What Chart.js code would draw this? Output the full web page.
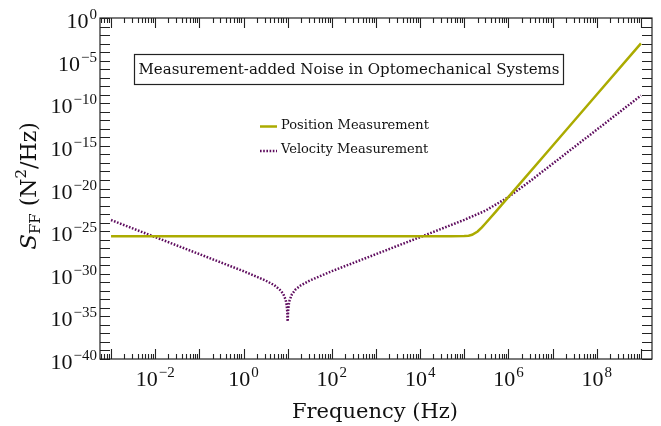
<!DOCTYPE html>
<html>
<head>
<meta charset="utf-8">
<script src="https://cdn.jsdelivr.net/npm/chart.js@4.4.1/dist/chart.umd.min.js"></script>
<style>
  body { margin: 0; background: #fff; }
</style>
</head>
<body>
<canvas id="myChart" width="661" height="426"></canvas>
<script>
// values (Hz, N^2/Hz)
const posFreq = [1e-3, 1e-2, 1e-1, 1, 10, 100, 1e3, 1e4, 5e4, 1e5, 1.25e5, 1.5e5, 2e5, 2.5e5, 3e5, 5e5, 7e5, 1e6, 1e7, 1e8, 1e9];
const posNoise = [2.5e-26, 2.5e-26, 2.5e-26, 2.5e-26, 2.5e-26, 2.5e-26, 2.5e-26, 2.5e-26, 2.5e-26, 2.6e-26, 2.9e-26, 3.7e-26, 9.1e-26, 2.8e-25, 7.9e-25, 1.6e-23, 1.2e-22, 1.05e-21, 1.05e-15, 1.05e-9, 1.05e-3];

const velFreq = [1e-3, 1e-2, 1e-1, 1, 3.16, 5, 7, 8, 9, 9.5, 9.8, 10, 10.2, 10.5, 11, 12.5, 15, 20, 31.6, 100, 1e3, 1e4, 1e5, 3e5, 1e6, 3e6, 1e7, 1e8, 1e9];
const velNoise = [2e-24, 2e-26, 2e-28, 2e-30, 1.6e-31, 4.5e-32, 1.05e-32, 4e-33, 8.9e-34, 2.1e-34, 3.2e-35, 2.5e-36, 3.2e-35, 1.9e-34, 7.2e-34, 4e-33, 1.4e-32, 4.5e-32, 1.6e-31, 2e-30, 2e-28, 2e-26, 2.1e-24, 2.5e-23, 1e-21, 6.6e-20, 8e-18, 8e-14, 8e-10];

const xLabelExp = [-2, 0, 2, 4, 6, 8];
const yLabelExp = [0, -5, -10, -15, -20, -25, -30, -35, -40];

const posColor = '#abab00';
const velColor = '#5e0c5e';
const serif = '"DejaVu Serif"';
const numFont = '"Liberation Serif"';

function drawPow(ctx, exp, x, y, align) {
    const base = '10';
    const sup = exp < 0 ? '\u2212' + Math.abs(exp) : String(exp);
    ctx.font = '22px ' + numFont;
    const wb = ctx.measureText(base).width;
    ctx.font = '15px ' + numFont;
    const ws = ctx.measureText(sup).width;
    const total = wb + ws + 1;
    const x0 = align === 'right' ? x - total : x - total / 2;
    ctx.textAlign = 'left';
    ctx.textBaseline = 'alphabetic';
    ctx.font = '22px ' + numFont;
    ctx.fillText(base, x0, y);
    ctx.font = '15px ' + numFont;
    ctx.fillText(sup, x0 + wb + 1, y - 9);
}

function drawPieces(ctx, pieces) {
    let total = 0;
    pieces.forEach(p => { ctx.font = p.font; p.w = ctx.measureText(p.t).width; total += p.w; });
    let x = -total / 2;
    ctx.textAlign = 'left';
    ctx.textBaseline = 'alphabetic';
    pieces.forEach(p => { ctx.font = p.font; ctx.fillText(p.t, x, p.dy); x += p.w; });
}

const frame = {
    id: 'frame',
    afterDraw(chart) {
        const ctx = chart.ctx;
        const xs = chart.scales.x;
        const ys = chart.scales.y;
        const a = chart.chartArea;
        ctx.save();
        ctx.strokeStyle = '#222';
        ctx.fillStyle = '#111';
        ctx.lineWidth = 1.2;
        ctx.strokeRect(a.left, a.top, a.right - a.left, a.bottom - a.top);

        // y ticks every decade, both sides, pointing in
        ctx.lineWidth = 1.1;
        ctx.beginPath();
        for (let e = 0; e >= -40; e--) {
            const y = Math.round(ys.getPixelForValue(Math.pow(10, e))) + 0.5;
            ctx.moveTo(a.left, y); ctx.lineTo(a.left + 10, y);
            ctx.moveTo(a.right, y); ctx.lineTo(a.right - 10, y);
        }
        // x ticks, major + minor, bottom and top
        for (let e = -4; e <= 9; e++) {
            for (let m = 1; m <= 9; m++) {
                const v = m * Math.pow(10, e);
                if (v < xs.min || v > xs.max) continue;
                const x = Math.round(xs.getPixelForValue(v)) + 0.5;
                const len = m === 1 ? 10 : 5;
                ctx.moveTo(x, a.bottom); ctx.lineTo(x, a.bottom - len);
                ctx.moveTo(x, a.top); ctx.lineTo(x, a.top + len);
            }
        }
        ctx.stroke();

        yLabelExp.forEach(e => drawPow(ctx, e, a.left - 3, ys.getPixelForValue(Math.pow(10, e)) + 10, 'right'));
        xLabelExp.forEach(e => drawPow(ctx, e, xs.getPixelForValue(Math.pow(10, e)), 386, 'center'));

        // axis titles
        ctx.save();
        ctx.translate(375, 418);
        drawPieces(ctx, [{ t: 'Frequency (Hz)', font: '21px ' + serif, dy: 0 }]);
        ctx.restore();

        ctx.save();
        ctx.translate(36, 186);
        ctx.rotate(-Math.PI / 2);
        drawPieces(ctx, [
            { t: 'S', font: 'italic 23px ' + serif, dy: 0 },
            { t: 'FF', font: '15px ' + serif, dy: 4 },
            { t: ' (N', font: '22px ' + serif, dy: 0 },
            { t: '2', font: '15px ' + serif, dy: -10 },
            { t: '/Hz)', font: '22px ' + serif, dy: 0 }
        ]);
        ctx.restore();

        // title box
        ctx.fillStyle = '#fff';
        ctx.fillRect(134.5, 54.5, 429, 30);
        ctx.lineWidth = 1.2;
        ctx.strokeStyle = '#222';
        ctx.strokeRect(134.5, 54.5, 429, 30);
        ctx.fillStyle = '#111';
        ctx.font = '15px ' + serif;
        ctx.textAlign = 'center';
        ctx.textBaseline = 'middle';
        ctx.fillText('Measurement-added Noise in Optomechanical Systems', 349, 70);

        // legend
        chart.data.datasets.forEach((ds, i) => {
            const y = 126.5 + i * 24.5;
            ctx.beginPath();
            ctx.strokeStyle = ds.borderColor;
            ctx.lineWidth = ds.borderWidth;
            ctx.setLineDash(ds.borderDash || []);
            ctx.moveTo(260, y); ctx.lineTo(277, y);
            ctx.stroke();
            ctx.setLineDash([]);
            ctx.fillStyle = '#111';
            ctx.font = '13px ' + serif;
            ctx.textAlign = 'left';
            ctx.textBaseline = 'middle';
            ctx.fillText(ds.label, 281, y - 1);
        });
        ctx.restore();
    }
};

const myChart = document.getElementById('myChart').getContext('2d');
const noiseChart = new Chart(myChart, {
    type: 'line',
    data: {
        datasets: [{
                label: 'Position Measurement',
                data: posFreq.map((f, i) => ({ x: f, y: posNoise[i] })),
                borderColor: posColor,
                borderWidth: 2.5,
                pointRadius: 0,
                tension: 0
            },
            {
                label: 'Velocity Measurement',
                data: velFreq.map((f, i) => ({ x: f, y: velNoise[i] })),
                borderColor: velColor,
                borderWidth: 2.5,
                borderDash: [1.6, 1.6],
                pointRadius: 0,
                tension: 0
            }
        ]
    },
    options: {
        responsive: false,
        animation: false,
        layout: {
            padding: { left: 100, top: 18, right: 9, bottom: 67 }
        },
        scales: {
            x: { type: 'logarithmic', min: Math.pow(10, -3.25), max: Math.pow(10, 9.25), display: false },
            y: { type: 'logarithmic', min: 1e-40, max: 1, display: false }
        },
        plugins: {
            legend: { display: false },
            tooltip: { enabled: false }
        }
    },
    plugins: [frame]
});
</script>
</body>
</html>
